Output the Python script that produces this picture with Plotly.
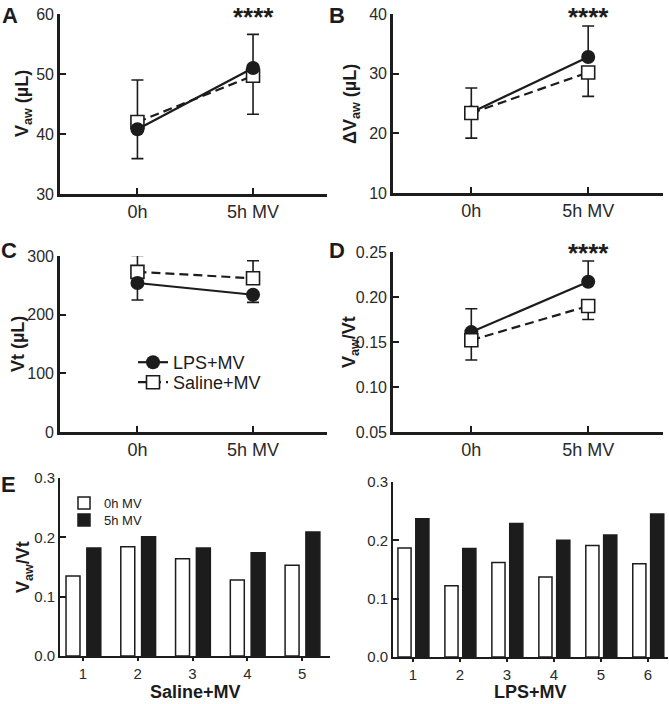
import plotly.graph_objects as go

W, H = 669, 704

# ---- data ----
times = ["0h", "5h MV"]
t_pos = [0, 1]

# A: Vaw (uL)
a_lps = [40.8, 51.0]
a_lps_up = [0, 5.6]
a_lps_dn = [4.9, 0]
a_sal = [42.0, 49.7]
a_sal_up = [7.0, 0]
a_sal_dn = [0, 6.4]

# B: delta Vaw (uL)
b_lps = [23.5, 32.8]
b_lps_up = [0, 5.2]
b_lps_dn = [4.3, 0]
b_sal = [23.4, 30.2]
b_sal_up = [4.2, 0]
b_sal_dn = [0, 4.0]

# C: Vt (uL)
c_lps = [254, 234]
c_lps_up = [0, 0]
c_lps_dn = [29, 13]
c_sal = [273, 262]
c_sal_up = [28, 30]
c_sal_dn = [0, 0]

# D: Vaw/Vt
d_lps = [0.161, 0.217]
d_lps_up = [0.026, 0.023]
d_lps_dn = [0, 0]
d_sal = [0.152, 0.190]
d_sal_up = [0, 0]
d_sal_dn = [0.022, 0.015]

# E: individual Vaw/Vt
sal_ids = [1, 2, 3, 4, 5]
sal_0h = [0.135, 0.184, 0.164, 0.128, 0.153]
sal_5h = [0.182, 0.201, 0.182, 0.174, 0.209]
lps_ids = [1, 2, 3, 4, 5, 6]
lps_0h = [0.187, 0.122, 0.162, 0.137, 0.191, 0.160]
lps_5h = [0.237, 0.186, 0.229, 0.200, 0.209, 0.245]

FONT = "Arial, Liberation Sans, sans-serif"
INK = "#1c1c1c"

def px_x(p):
    return p / W

def px_y(p):
    return 1 - p / H

fig = go.Figure()

def err_trace(y, up, dn, ax):
    return go.Scatter(x=t_pos, y=y, mode="markers",
                      marker=dict(size=1, color="rgba(0,0,0,0)"),
                      error_y=dict(type="data", symmetric=False, array=up, arrayminus=dn,
                                   color=INK, thickness=1.6, width=6),
                      xaxis="x" + ax, yaxis="y" + ax, showlegend=False, hoverinfo="skip")

def lps_trace(y, ax, legend=False):
    return go.Scatter(x=t_pos, y=y, mode="lines+markers", name="LPS+MV",
                      line=dict(color=INK, width=2.2),
                      marker=dict(symbol="circle", size=14, color=INK),
                      xaxis="x" + ax, yaxis="y" + ax, showlegend=legend, legend="legend")

def sal_trace(y, ax, legend=False):
    return go.Scatter(x=t_pos, y=y, mode="lines+markers", name="Saline+MV",
                      line=dict(color=INK, width=2.2, dash="9px,5px"),
                      marker=dict(symbol="square", size=13, color="white",
                                  line=dict(color=INK, width=1.6)),
                      xaxis="x" + ax, yaxis="y" + ax, showlegend=legend, legend="legend3")

panels = [
    ("", a_lps, a_lps_up, a_lps_dn, a_sal, a_sal_up, a_sal_dn, "sal_first"),
    ("2", b_lps, b_lps_up, b_lps_dn, b_sal, b_sal_up, b_sal_dn, "lps_first"),
    ("3", c_lps, c_lps_up, c_lps_dn, c_sal, c_sal_up, c_sal_dn, "sal_first"),
    ("4", d_lps, d_lps_up, d_lps_dn, d_sal, d_sal_up, d_sal_dn, "lps_first"),
]
for ax, lps, lu, ld, sal, su, sd, order in panels:
    fig.add_trace(err_trace(lps, lu, ld, ax))
    fig.add_trace(err_trace(sal, su, sd, ax))
    leg = ax == "3"
    if order == "sal_first":
        fig.add_trace(sal_trace(sal, ax, leg))
        fig.add_trace(lps_trace(lps, ax, leg))
    else:
        fig.add_trace(lps_trace(lps, ax, leg))
        fig.add_trace(sal_trace(sal, ax, leg))

# bar panels
fig.add_trace(go.Bar(x=sal_ids, y=sal_0h, name="0h MV", width=0.255, offset=-0.31,
                     marker=dict(color="white", line=dict(color=INK, width=1.5)),
                     xaxis="x5", yaxis="y5", legend="legend2"))
fig.add_trace(go.Bar(x=sal_ids, y=sal_5h, name="5h MV", width=0.255, offset=0.07,
                     marker=dict(color=INK, line=dict(color=INK, width=1.5)),
                     xaxis="x5", yaxis="y5", legend="legend4"))
fig.add_trace(go.Bar(x=lps_ids, y=lps_0h, name="0h MV", width=0.28, offset=-0.32,
                     marker=dict(color="white", line=dict(color=INK, width=1.5)),
                     xaxis="x6", yaxis="y6", showlegend=False))
fig.add_trace(go.Bar(x=lps_ids, y=lps_5h, name="5h MV", width=0.28, offset=0.06,
                     marker=dict(color=INK, line=dict(color=INK, width=1.5)),
                     xaxis="x6", yaxis="y6", showlegend=False))

def xax(l, r, rng, tv, tt, ticks, size, lw, tl=6):
    return dict(domain=[px_x(l), px_x(r)], range=rng, tickvals=tv, ticktext=tt,
                ticks=ticks, ticklen=tl, tickwidth=2, tickcolor=INK, automargin=False,
                showline=True, linecolor=INK, linewidth=lw, showgrid=False, zeroline=False,
                tickfont=dict(size=size, color="#2a2a2a"), fixedrange=True)

def yax(t, b, rng, dtick, fmt, size, lw, anchor):
    return dict(domain=[px_y(b), px_y(t)], range=rng, dtick=dtick, tickformat=fmt,
                ticks="inside", ticklen=6, tickwidth=2, tickcolor=INK, automargin=False,
                showline=True, linecolor=INK, linewidth=lw, showgrid=False, zeroline=False,
                tickfont=dict(size=size, color="#2a2a2a"), anchor=anchor, fixedrange=True)

def leg(x, y, size):
    return dict(x=px_x(x), y=px_y(y), xanchor="left", yanchor="top",
                font=dict(size=size), bgcolor="rgba(0,0,0,0)", itemwidth=30)

xr = [-0.67, 1.64]
fig.update_layout(
    width=W, height=H, margin=dict(l=0, r=0, t=0, b=0, autoexpand=False),
    paper_bgcolor="white", plot_bgcolor="white",
    font=dict(family=FONT, color=INK),
    barmode="overlay",
    xaxis=xax(60, 327, xr, t_pos, times, "inside", 18, 2.6) | dict(anchor="y"),
    yaxis=yax(14, 194, [30, 60], 10, "d", 16, 2.6, "x"),
    xaxis2=xax(393, 663, xr, t_pos, times, "inside", 18, 2.6) | dict(anchor="y2"),
    yaxis2=yax(14, 193, [10, 40], 10, "d", 16, 2.6, "x2"),
    xaxis3=xax(60, 327, xr, t_pos, times, "inside", 18, 2.6) | dict(anchor="y3"),
    yaxis3=yax(256, 432, [0, 300], 100, "d", 16, 2.6, "x3"),
    xaxis4=xax(393, 663, xr, t_pos, times, "inside", 18, 2.6) | dict(anchor="y4"),
    yaxis4=yax(252, 432, [0.05, 0.25], 0.05, ".2f", 16, 2.6, "x4"),
    xaxis5=xax(60, 330, [0.58, 5.51], sal_ids, [str(i) for i in sal_ids], "outside", 15, 1.6, 3) | dict(anchor="y5"),
    yaxis5=yax(478, 656, [0, 0.3], 0.1, ".1f", 15, 1.6, "x5"),
    xaxis6=xax(393, 668, [0.575, 6.43], lps_ids, [str(i) for i in lps_ids], "outside", 15, 1.6, 3) | dict(anchor="y6"),
    yaxis6=yax(482, 657, [0, 0.3], 0.1, ".1f", 15, 1.6, "x6"),
    legend=leg(133, 344, 18),
    legend3=leg(133, 364, 18),
    legend2=leg(64, 488, 13),
    legend4=leg(64, 505, 13),
)

ann = []
def label(text, x, y, size, bold=True, angle=0):
    ann.append(dict(text="<b>%s</b>" % text if bold else text, x=px_x(x), y=px_y(y),
                    xref="paper", yref="paper", xanchor="center", yanchor="middle",
                    showarrow=False, textangle=angle, font=dict(size=size, color=INK)))

for letter, x, y in [("A", 10, 16), ("B", 337, 16), ("C", 9, 251), ("D", 337, 250), ("E", 8, 484)]:
    label(letter, x, y, 22)

label("V<sub>aw</sub> (µL)", 24, 104, 18, angle=-90)
label("ΔV<sub>aw</sub> (µL)", 352, 104, 18, angle=-90)
label("Vt (µL)", 18, 344, 18, angle=-90)
label("V<sub>aw</sub>/Vt", 350, 342, 18, angle=-90)
label("V<sub>aw</sub>/Vt", 24, 567, 18, angle=-90)
label("Saline+MV", 195, 692, 18)
label("LPS+MV", 530, 692, 18)

# significance stars above the 5h MV points
for ax, y in [("", 0), ("2", 0), ("4", 236)]:
    ann.append(dict(text="<b>****</b>", x=1, y=px_y(y), xref="x" + ax, yref="paper",
                    xanchor="center", yanchor="top", showarrow=False,
                    font=dict(size=26, color=INK)))

fig.update_layout(annotations=ann)
fig.write_html("out.html", config={"displayModeBar": False},
               post_script="document.body.style.margin='0';")
